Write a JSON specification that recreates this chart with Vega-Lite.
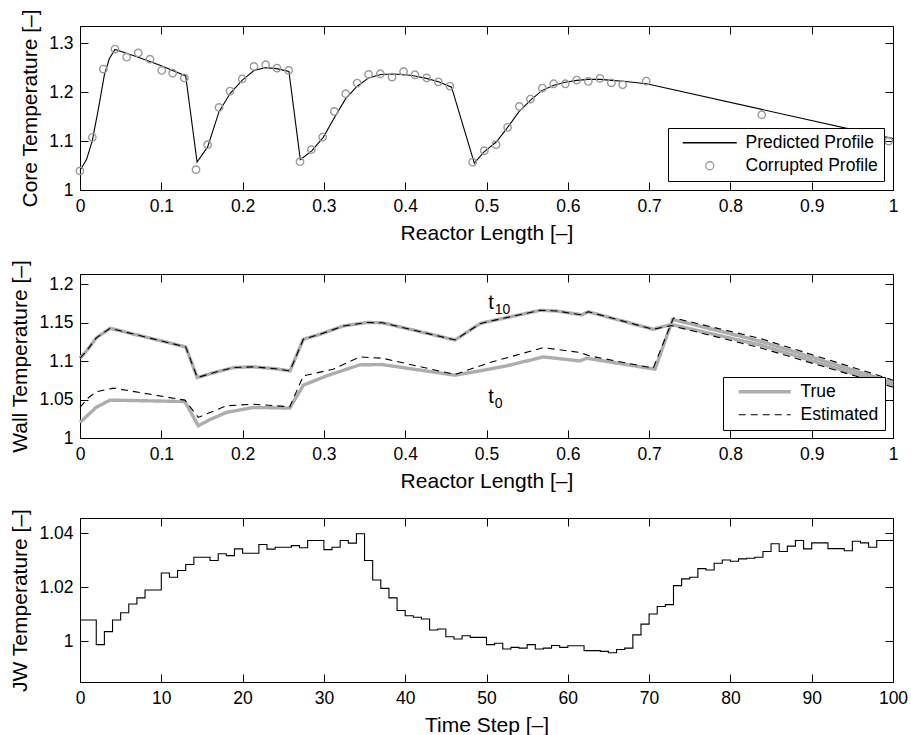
{
  "$schema": "https://vega.github.io/schema/vega-lite/v6.json",
  "background": "white",
  "padding": {"left": 9, "top": 8, "right": 5, "bottom": 5},
  "spacing": 15,
  "resolve": {
    "scale": {"color": "independent", "shape": "independent", "strokeDash": "independent", "strokeWidth": "independent"},
    "legend": {"color": "independent", "shape": "independent", "strokeDash": "independent", "strokeWidth": "independent"}
  },
  "datasets": {
    "core_pred": [
      {"x":0,"y":1.040},{"x":0.008,"y":1.062},{"x":0.015,"y":1.100},{"x":0.022,"y":1.160},{"x":0.030,"y":1.235},{"x":0.036,"y":1.268},{"x":0.043,"y":1.287},{"x":0.070,"y":1.272},{"x":0.100,"y":1.254},{"x":0.130,"y":1.233},{"x":0.144,"y":1.057},{"x":0.157,"y":1.088},{"x":0.171,"y":1.160},{"x":0.185,"y":1.198},{"x":0.200,"y":1.225},{"x":0.214,"y":1.244},{"x":0.228,"y":1.250},{"x":0.242,"y":1.248},{"x":0.257,"y":1.242},{"x":0.271,"y":1.062},{"x":0.285,"y":1.080},{"x":0.299,"y":1.107},{"x":0.313,"y":1.148},{"x":0.327,"y":1.187},{"x":0.341,"y":1.212},{"x":0.355,"y":1.229},{"x":0.370,"y":1.236},{"x":0.384,"y":1.237},{"x":0.398,"y":1.236},{"x":0.412,"y":1.233},{"x":0.426,"y":1.228},{"x":0.441,"y":1.221},{"x":0.457,"y":1.210},{"x":0.485,"y":1.055},{"x":0.497,"y":1.078},{"x":0.512,"y":1.098},{"x":0.526,"y":1.128},{"x":0.540,"y":1.160},{"x":0.554,"y":1.183},{"x":0.568,"y":1.203},{"x":0.583,"y":1.214},{"x":0.597,"y":1.220},{"x":0.611,"y":1.224},{"x":0.625,"y":1.226},{"x":0.640,"y":1.226},{"x":0.654,"y":1.224},{"x":0.668,"y":1.222},{"x":0.697,"y":1.217},{"x":1.000,"y":1.105}
    ],
    "core_obs": [
      {"x":0,"y":1.039},{"x":0.0152,"y":1.1075},{"x":0.0287,"y":1.247},{"x":0.043,"y":1.2878},{"x":0.0574,"y":1.2714},{"x":0.0717,"y":1.280},{"x":0.0861,"y":1.2673},{"x":0.1005,"y":1.2442},{"x":0.114,"y":1.2388},{"x":0.1283,"y":1.229},{"x":0.1427,"y":1.0415},{"x":0.157,"y":1.0925},{"x":0.171,"y":1.1687},{"x":0.1845,"y":1.202},{"x":0.1996,"y":1.227},{"x":0.214,"y":1.2524},{"x":0.2284,"y":1.2558},{"x":0.2423,"y":1.249},{"x":0.2567,"y":1.2442},{"x":0.2706,"y":1.0578},{"x":0.2845,"y":1.0823},{"x":0.2985,"y":1.108},{"x":0.3128,"y":1.1605},{"x":0.3268,"y":1.1966},{"x":0.341,"y":1.2184},{"x":0.355,"y":1.236},{"x":0.3694,"y":1.2374},{"x":0.3838,"y":1.2306},{"x":0.398,"y":1.242},{"x":0.412,"y":1.2354},{"x":0.4264,"y":1.229},{"x":0.4407,"y":1.221},{"x":0.4551,"y":1.2122},{"x":0.483,"y":1.0571},{"x":0.4973,"y":1.0802},{"x":0.5117,"y":1.0925},{"x":0.526,"y":1.128},{"x":0.5404,"y":1.1707},{"x":0.554,"y":1.1857},{"x":0.5687,"y":1.2082},{"x":0.5826,"y":1.217},{"x":0.597,"y":1.217},{"x":0.611,"y":1.2245},{"x":0.6252,"y":1.2218},{"x":0.6396,"y":1.228},{"x":0.6535,"y":1.219},{"x":0.6675,"y":1.215},{"x":0.6965,"y":1.2224},{"x":0.8385,"y":1.1537},{"x":0.9947,"y":1.1}
    ],
    "wall_true": [
      {"snap":"t10","x":0,"y":1.1036},{"snap":"t10","x":0.008,"y":1.113},{"snap":"t10","x":0.020,"y":1.130},{"snap":"t10","x":0.037,"y":1.1425},{"snap":"t10","x":0.130,"y":1.1183},{"snap":"t10","x":0.1443,"y":1.0785},{"snap":"t10","x":0.165,"y":1.085},{"snap":"t10","x":0.1886,"y":1.0915},{"snap":"t10","x":0.213,"y":1.0924},{"snap":"t10","x":0.240,"y":1.090},{"snap":"t10","x":0.2583,"y":1.0872},{"snap":"t10","x":0.2747,"y":1.1282},{"snap":"t10","x":0.2952,"y":1.1347},{"snap":"t10","x":0.324,"y":1.1455},{"snap":"t10","x":0.3526,"y":1.150},{"snap":"t10","x":0.372,"y":1.1497},{"snap":"t10","x":0.4613,"y":1.1273},{"snap":"t10","x":0.492,"y":1.1485},{"snap":"t10","x":0.500,"y":1.1507},{"snap":"t10","x":0.5658,"y":1.1658},{"snap":"t10","x":0.586,"y":1.165},{"snap":"t10","x":0.617,"y":1.160},{"snap":"t10","x":0.6252,"y":1.164},{"snap":"t10","x":0.705,"y":1.1412},{"snap":"t10","x":0.727,"y":1.1475},{"snap":"t10","x":0.836,"y":1.121},{"snap":"t10","x":1.0,"y":1.068},
      {"snap":"t0","x":0,"y":1.0202},{"snap":"t0","x":0.010,"y":1.030},{"snap":"t0","x":0.020,"y":1.040},{"snap":"t0","x":0.037,"y":1.0492},{"snap":"t0","x":0.129,"y":1.0474},{"snap":"t0","x":0.1455,"y":1.0159},{"snap":"t0","x":0.160,"y":1.024},{"snap":"t0","x":0.180,"y":1.0332},{"snap":"t0","x":0.213,"y":1.0397},{"snap":"t0","x":0.258,"y":1.0389},{"snap":"t0","x":0.2747,"y":1.0686},{"snap":"t0","x":0.3034,"y":1.0807},{"snap":"t0","x":0.344,"y":1.0950},{"snap":"t0","x":0.3715,"y":1.0954},{"snap":"t0","x":0.461,"y":1.0816},{"snap":"t0","x":0.492,"y":1.0872},{"snap":"t0","x":0.5248,"y":1.0937},{"snap":"t0","x":0.570,"y":1.1053},{"snap":"t0","x":0.615,"y":1.1001},{"snap":"t0","x":0.623,"y":1.1036},{"snap":"t0","x":0.7073,"y":1.0894},{"snap":"t0","x":0.729,"y":1.154},{"snap":"t0","x":0.836,"y":1.126},{"snap":"t0","x":1.0,"y":1.072}
    ],
    "wall_est": [
      {"snap":"t10","x":0,"y":1.1036},{"snap":"t10","x":0.008,"y":1.113},{"snap":"t10","x":0.020,"y":1.130},{"snap":"t10","x":0.037,"y":1.1425},{"snap":"t10","x":0.130,"y":1.1183},{"snap":"t10","x":0.1443,"y":1.0785},{"snap":"t10","x":0.165,"y":1.085},{"snap":"t10","x":0.1886,"y":1.0915},{"snap":"t10","x":0.213,"y":1.0924},{"snap":"t10","x":0.240,"y":1.090},{"snap":"t10","x":0.2583,"y":1.0872},{"snap":"t10","x":0.2747,"y":1.1282},{"snap":"t10","x":0.2952,"y":1.1347},{"snap":"t10","x":0.324,"y":1.1455},{"snap":"t10","x":0.3526,"y":1.150},{"snap":"t10","x":0.372,"y":1.1497},{"snap":"t10","x":0.4613,"y":1.1273},{"snap":"t10","x":0.492,"y":1.1485},{"snap":"t10","x":0.500,"y":1.1507},{"snap":"t10","x":0.5658,"y":1.1658},{"snap":"t10","x":0.586,"y":1.165},{"snap":"t10","x":0.617,"y":1.160},{"snap":"t10","x":0.6252,"y":1.164},{"snap":"t10","x":0.705,"y":1.1412},{"snap":"t10","x":0.727,"y":1.146},{"snap":"t10","x":0.836,"y":1.1174},{"snap":"t10","x":1.0,"y":1.066},
      {"snap":"t0","x":0,"y":1.0397},{"snap":"t0","x":0.010,"y":1.052},{"snap":"t0","x":0.020,"y":1.060},{"snap":"t0","x":0.041,"y":1.0648},{"snap":"t0","x":0.129,"y":1.0492},{"snap":"t0","x":0.1455,"y":1.0267},{"snap":"t0","x":0.180,"y":1.0418},{"snap":"t0","x":0.213,"y":1.0439},{"snap":"t0","x":0.258,"y":1.0405},{"snap":"t0","x":0.2747,"y":1.0807},{"snap":"t0","x":0.3116,"y":1.0894},{"snap":"t0","x":0.344,"y":1.1053},{"snap":"t0","x":0.372,"y":1.1036},{"snap":"t0","x":0.461,"y":1.0825},{"snap":"t0","x":0.504,"y":1.098},{"snap":"t0","x":0.570,"y":1.1174},{"snap":"t0","x":0.615,"y":1.111},{"snap":"t0","x":0.627,"y":1.1066},{"snap":"t0","x":0.705,"y":1.0907},{"snap":"t0","x":0.730,"y":1.156},{"snap":"t0","x":0.836,"y":1.1295},{"snap":"t0","x":0.992,"y":1.078},{"snap":"t0","x":1.0,"y":1.075}
    ],
    "tlabels": [
      {"x":0.502,"y":1.167,"t":"t","sub":"10"},
      {"x":0.502,"y":1.046,"t":"t","sub":"0"}
    ],
    "jw": [
      {"step":0,"v":1.0079},{"step":1,"v":1.0079},{"step":2,"v":0.9988},{"step":3,"v":1.0036},{"step":4,"v":1.0079},{"step":5,"v":1.0106},{"step":6,"v":1.0138},{"step":7,"v":1.0161},{"step":8,"v":1.019},{"step":9,"v":1.019},{"step":10,"v":1.0253},{"step":11,"v":1.0237},{"step":12,"v":1.0262},{"step":13,"v":1.0284},{"step":14,"v":1.0311},{"step":15,"v":1.0311},{"step":16,"v":1.0299},{"step":17,"v":1.0324},{"step":18,"v":1.0317},{"step":19,"v":1.0342},{"step":20,"v":1.0326},{"step":21,"v":1.0326},{"step":22,"v":1.0358},{"step":23,"v":1.0341},{"step":24,"v":1.0348},{"step":25,"v":1.0348},{"step":26,"v":1.0354},{"step":27,"v":1.0346},{"step":28,"v":1.0373},{"step":29,"v":1.0373},{"step":30,"v":1.0339},{"step":31,"v":1.0348},{"step":32,"v":1.0373},{"step":33,"v":1.0363},{"step":34,"v":1.0398},{"step":35,"v":1.0299},{"step":36,"v":1.0227},{"step":37,"v":1.0196},{"step":38,"v":1.0161},{"step":39,"v":1.0114},{"step":40,"v":1.0095},{"step":41,"v":1.0089},{"step":42,"v":1.0083},{"step":43,"v":1.0042},{"step":44,"v":1.0046},{"step":45,"v":1.0017},{"step":46,"v":1.0009},{"step":47,"v":1.0021},{"step":48,"v":1.0015},{"step":49,"v":1.0015},{"step":50,"v":0.9988},{"step":51,"v":0.9993},{"step":52,"v":0.9972},{"step":53,"v":0.9978},{"step":54,"v":0.9975},{"step":55,"v":0.9988},{"step":56,"v":0.9972},{"step":57,"v":0.9975},{"step":58,"v":0.9985},{"step":59,"v":0.9978},{"step":60,"v":0.9984},{"step":61,"v":0.9984},{"step":62,"v":0.9966},{"step":63,"v":0.9966},{"step":64,"v":0.9963},{"step":65,"v":0.9958},{"step":66,"v":0.997},{"step":67,"v":0.9975},{"step":68,"v":1.0024},{"step":69,"v":1.0064},{"step":70,"v":1.0101},{"step":71,"v":1.0129},{"step":72,"v":1.0136},{"step":73,"v":1.0206},{"step":74,"v":1.0231},{"step":75,"v":1.0237},{"step":76,"v":1.0269},{"step":77,"v":1.0264},{"step":78,"v":1.0289},{"step":79,"v":1.0301},{"step":80,"v":1.0296},{"step":81,"v":1.0305},{"step":82,"v":1.0307},{"step":83,"v":1.0311},{"step":84,"v":1.0332},{"step":85,"v":1.0361},{"step":86,"v":1.0332},{"step":87,"v":1.0352},{"step":88,"v":1.0373},{"step":89,"v":1.0342},{"step":90,"v":1.0364},{"step":91,"v":1.0364},{"step":92,"v":1.0343},{"step":93,"v":1.0343},{"step":94,"v":1.0335},{"step":95,"v":1.037},{"step":96,"v":1.0364},{"step":97,"v":1.0348},{"step":98,"v":1.0373},{"step":99,"v":1.0373},{"step":100,"v":1.0373}
    ]
  },
  "vconcat": [
    {
      "width": 813, "height": 164,
      "resolve": {"axis": {"x": "independent", "y": "independent"}},
      "layer": [
        {
          "data": {"name": "core_pred"},
          "mark": {"type": "line", "color": "black", "strokeWidth": 1.1},
          "encoding": {
            "x": {"field": "x", "type": "quantitative", "scale": {"domain": [0, 1], "nice": false},
                  "axis": {"orient": "bottom", "values": [0,0.1,0.2,0.3,0.4,0.5,0.6,0.7,0.8,0.9,1], "format": "~r", "title": "Reactor Length [–]"}},
            "y": {"field": "y", "type": "quantitative", "scale": {"domain": [1, 1.335], "nice": false, "zero": false},
                  "axis": {"orient": "left", "values": [1,1.1,1.2,1.3], "format": "~r", "title": "Core Temperature [–]"}},
            "color": {"datum": "Predicted Profile", "type": "nominal",
                      "scale": {"domain": ["Predicted Profile", "Corrupted Profile"], "range": ["black", "#9a9a9a"]},
                      "legend": {"title": null, "orient": "bottom-right", "offset": 9, "symbolOffset": 27, "labelOffset": 27}}
          }
        },
        {
          "data": {"name": "core_obs"},
          "mark": {"type": "point", "filled": false, "size": 55, "strokeWidth": 1.4, "opacity": 1},
          "encoding": {
            "x": {"field": "x", "type": "quantitative", "axis": null},
            "y": {"field": "y", "type": "quantitative", "axis": null},
            "color": {"datum": "Corrupted Profile", "type": "nominal"},
            "shape": {"datum": "Corrupted Profile", "type": "nominal",
                      "scale": {"domain": ["Predicted Profile", "Corrupted Profile"], "range": ["M-6.75,0H6.75", "circle"]}}
          }
        },
        {
          "data": {"name": "core_pred"},
          "mark": {"type": "line", "opacity": 0},
          "encoding": {
            "x": {"field": "x", "type": "quantitative", "axis": {"orient": "top", "values": [0,0.1,0.2,0.3,0.4,0.5,0.6,0.7,0.8,0.9,1], "labels": false, "title": null}},
            "y": {"field": "y", "type": "quantitative", "axis": {"orient": "right", "values": [1,1.1,1.2,1.3], "labels": false, "title": null}}
          }
        }
      ]
    },
    {
      "width": 813, "height": 164,
      "resolve": {"axis": {"x": "independent", "y": "independent"}},
      "layer": [
        {
          "data": {"name": "wall_true"},
          "mark": {"type": "line"},
          "encoding": {
            "x": {"field": "x", "type": "quantitative", "scale": {"domain": [0, 1], "nice": false},
                  "axis": {"orient": "bottom", "values": [0,0.1,0.2,0.3,0.4,0.5,0.6,0.7,0.8,0.9,1], "format": "~r", "title": "Reactor Length [–]"}},
            "y": {"field": "y", "type": "quantitative", "scale": {"domain": [1, 1.213], "nice": false, "zero": false},
                  "axis": {"orient": "left", "values": [1,1.05,1.1,1.15,1.2], "format": "~r", "title": "Wall Temperature [–]"}},
            "detail": {"field": "snap"},
            "color": {"datum": "True", "type": "nominal",
                      "scale": {"domain": ["True", "Estimated"], "range": ["#adadad", "black"]},
                      "legend": {"title": null, "orient": "bottom-right", "offset": 8, "symbolType": "M-6.5,0H6.5", "symbolSize": 64, "symbolOffset": 27, "labelOffset": 27}},
            "strokeDash": {"datum": "True", "type": "nominal",
                      "scale": {"domain": ["True", "Estimated"], "range": [[1, 0], [7, 5]]}},
            "strokeWidth": {"datum": "True", "type": "nominal",
                      "scale": {"domain": ["True", "Estimated"], "range": [3.4, 1.1]}}
          }
        },
        {
          "data": {"name": "wall_est"},
          "mark": {"type": "line"},
          "encoding": {
            "x": {"field": "x", "type": "quantitative", "axis": null},
            "y": {"field": "y", "type": "quantitative", "axis": null},
            "detail": {"field": "snap"},
            "color": {"datum": "Estimated", "type": "nominal"},
            "strokeDash": {"datum": "Estimated", "type": "nominal"},
            "strokeWidth": {"datum": "Estimated", "type": "nominal"}
          }
        },
        {
          "data": {"name": "tlabels"},
          "mark": {"type": "text", "align": "left", "baseline": "alphabetic", "fontSize": 20, "color": "black"},
          "encoding": {
            "x": {"field": "x", "type": "quantitative", "axis": null},
            "y": {"field": "y", "type": "quantitative", "axis": null},
            "text": {"field": "t"}
          }
        },
        {
          "data": {"name": "tlabels"},
          "mark": {"type": "text", "align": "left", "baseline": "alphabetic", "fontSize": 14, "dx": 6.5, "dy": 5, "color": "black"},
          "encoding": {
            "x": {"field": "x", "type": "quantitative", "axis": null},
            "y": {"field": "y", "type": "quantitative", "axis": null},
            "text": {"field": "sub"}
          }
        },
        {
          "data": {"name": "wall_true"},
          "mark": {"type": "line", "opacity": 0},
          "encoding": {
            "x": {"field": "x", "type": "quantitative", "axis": {"orient": "top", "values": [0,0.1,0.2,0.3,0.4,0.5,0.6,0.7,0.8,0.9,1], "labels": false, "title": null}},
            "y": {"field": "y", "type": "quantitative", "axis": {"orient": "right", "values": [1,1.05,1.1,1.15,1.2], "labels": false, "title": null}},
            "detail": {"field": "snap"}
          }
        }
      ]
    },
    {
      "width": 813, "height": 164,
      "resolve": {"axis": {"x": "independent", "y": "independent"}},
      "layer": [
        {
          "data": {"name": "jw"},
          "mark": {"type": "line", "interpolate": "step-after", "color": "black", "strokeWidth": 1.1},
          "encoding": {
            "x": {"field": "step", "type": "quantitative", "scale": {"domain": [0, 100], "nice": false},
                  "axis": {"orient": "bottom", "values": [0,10,20,30,40,50,60,70,80,90,100], "format": "~r", "title": "Time Step [–]"}},
            "y": {"field": "v", "type": "quantitative", "scale": {"domain": [0.985, 1.0456], "nice": false, "zero": false},
                  "axis": {"orient": "left", "values": [1,1.02,1.04], "format": "~r", "title": "JW Temperature [–]"}}
          }
        },
        {
          "data": {"name": "jw"},
          "mark": {"type": "line", "opacity": 0},
          "encoding": {
            "x": {"field": "step", "type": "quantitative", "axis": {"orient": "top", "values": [0,10,20,30,40,50,60,70,80,90,100], "labels": false, "title": null}},
            "y": {"field": "v", "type": "quantitative", "axis": {"orient": "right", "values": [1,1.02,1.04], "labels": false, "title": null}}
          }
        }
      ]
    }
  ],
  "config": {
    "font": "Liberation Sans",
    "view": {"stroke": "black", "strokeWidth": 1},
    "axis": {
      "grid": false, "domain": false, "ticks": true, "tickSize": -8, "tickColor": "black", "tickWidth": 1,
      "labelFlush": false, "labelOverlap": false,
      "labelFont": "Liberation Sans", "labelFontSize": 17.5, "labelColor": "black", "labelPadding": 15,
      "titleFont": "Liberation Sans", "titleFontSize": 21, "titleFontWeight": "normal", "titleColor": "black", "titlePadding": 8
    },
    "legend": {
      "strokeColor": "black", "fillColor": "white", "padding": 6, "cornerRadius": 0,
      "labelFont": "Liberation Sans", "labelFontSize": 17.5, "labelColor": "black", "rowPadding": 4,
      "symbolStrokeWidth": 1.3, "symbolSize": 64
    }
  }
}
